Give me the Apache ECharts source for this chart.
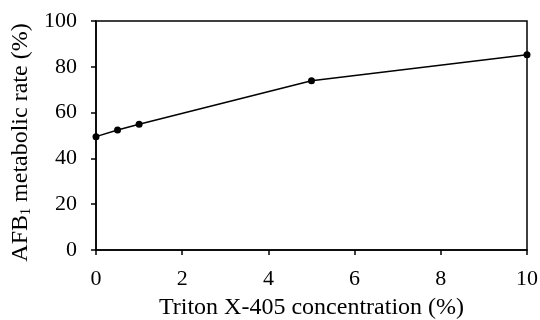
<!DOCTYPE html>
<html>
<head>
<meta charset="utf-8">
<script src="https://cdn.jsdelivr.net/npm/echarts@6/dist/echarts.min.js"></script>
<style>
  html, body { margin: 0; padding: 0; background: #fff; }
  #chart { width: 540px; height: 320px; }
</style>
</head>
<body>
<div id="chart"></div>
<script>
// Triton X-405 concentration (%) vs AFB1 metabolic rate (%)
const concentration = [0, 0.5, 1, 5, 10];
const metabolicRate = [49.5, 52.4, 54.9, 73.9, 85.3];
const xTicks = [0, 2, 4, 6, 8, 10];
const yTicks = [0, 20, 40, 60, 80, 100];

const FONT = '"Liberation Serif", "DejaVu Serif", serif';

const chart = echarts.init(document.getElementById('chart'));

chart.setOption({
  backgroundColor: '#fff',
  animation: false,
  grid: {
    left: 96,
    right: 13,
    top: 21,
    bottom: 70,
    show: true,
    borderColor: '#000',
    borderWidth: 1.5,
    containLabel: false,
    outerBoundsMode: 'none',
  },
  xAxis: {
    type: 'value',
    min: xTicks[0],
    max: xTicks[xTicks.length - 1],
    interval: 2,
    name: 'Triton X-405 concentration (%)',
    nameLocation: 'middle',
    nameGap: 46,
    nameTextStyle: { fontFamily: FONT, fontSize: 24, color: '#000' },
    axisLine: { lineStyle: { color: '#000', width: 1.5 } },
    axisTick: { inside: false, length: 5, lineStyle: { color: '#000', width: 1.5 } },
    axisLabel: { fontFamily: FONT, fontSize: 22, color: '#000', margin: 18 },
    splitLine: { show: false },
  },
  yAxis: {
    type: 'value',
    min: yTicks[0],
    max: yTicks[yTicks.length - 1],
    interval: 20,
    name: 'AFB{sub|1} metabolic rate (%)',
    nameLocation: 'middle',
    nameGap: 56,
    nameTextStyle: {
      fontFamily: FONT, fontSize: 24, color: '#000',
      padding: [0, 14, 0, 0],
      rich: {
        sub: { fontFamily: FONT, fontSize: 14, color: '#000', verticalAlign: 'bottom', padding: [10, 0, 0, 0] },
      },
    },
    axisLine: { lineStyle: { color: '#000', width: 1.5 } },
    axisTick: { inside: false, length: 5, lineStyle: { color: '#000', width: 1.5 } },
    axisLabel: { fontFamily: FONT, fontSize: 22, color: '#000', margin: 19 },
    splitLine: { show: false },
  },
  series: [
    {
      type: 'line',
      data: concentration.map((x, i) => [x, metabolicRate[i]]),
      symbol: 'circle',
      symbolSize: 7,
      lineStyle: { color: '#000', width: 1.5 },
      itemStyle: { color: '#000' },
      clip: false,
    },
  ],
});
</script>
</body>
</html>
